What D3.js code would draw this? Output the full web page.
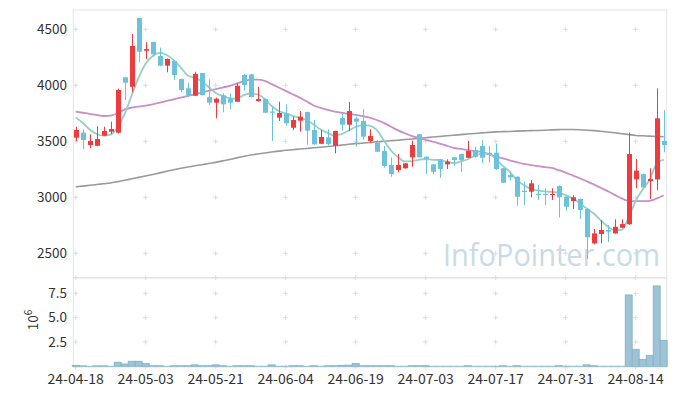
<!DOCTYPE html>
<html><head><meta charset="utf-8">
<script src="https://cdn.jsdelivr.net/npm/d3@7"></script>
<style>html,body{margin:0;padding:0;background:#fff}svg{display:block}</style>
</head><body>
<svg id="chart" width="677" height="396"></svg>
<script>
const dates = ["24-04-18","24-04-19","24-04-22","24-04-23","24-04-24","24-04-25","24-04-26","24-04-29","24-04-30","24-05-02",
"24-05-03","24-05-07","24-05-08","24-05-09","24-05-10","24-05-13","24-05-14","24-05-16","24-05-17","24-05-20",
"24-05-21","24-05-22","24-05-23","24-05-24","24-05-27","24-05-28","24-05-29","24-05-30","24-05-31","24-06-03",
"24-06-04","24-06-05","24-06-07","24-06-10","24-06-11","24-06-12","24-06-13","24-06-14","24-06-17","24-06-18",
"24-06-19","24-06-20","24-06-21","24-06-24","24-06-25","24-06-26","24-06-27","24-06-28","24-07-01","24-07-02",
"24-07-03","24-07-04","24-07-05","24-07-08","24-07-09","24-07-10","24-07-11","24-07-12","24-07-15","24-07-16",
"24-07-17","24-07-18","24-07-19","24-07-22","24-07-23","24-07-24","24-07-25","24-07-26","24-07-29","24-07-30",
"24-07-31","24-08-01","24-08-02","24-08-05","24-08-06","24-08-07","24-08-08","24-08-09","24-08-12","24-08-13",
"24-08-14","24-08-16","24-08-19","24-08-20","24-08-21"];

const openP = [3532,3577,3467,3460,3550,3586,3577,4071,3987,4601,
4309,4387,4262,4175,4217,4056,3973,3907,4110,3895,
3845,3911,3880,3853,4092,4098,3860,3877,3766,3711,
3750,3621,3684,3761,3601,3478,3535,3460,3708,3648,
3705,3681,3503,3487,3413,3288,3244,3259,3357,3563,
3362,3294,3339,3294,3357,3386,3353,3422,3458,3398,
3398,3259,3199,3184,3058,3050,3031,3031,3027,3101,
3005,2967,2985,2895,2589,2672,2708,2678,2728,2759,
3160,3208,3145,3160,3503];
const highP = [3630,3607,3562,3634,3630,3675,3970,4075,4458,4601,
4384,4390,4336,4240,4220,4060,4023,4121,4110,4053,
3890,3928,3928,4018,4101,4100,3987,3880,3809,3853,
3830,3720,3770,3765,3690,3601,3607,3595,3755,3851,
3720,3786,3607,3511,3458,3357,3386,3306,3505,3565,
3365,3297,3342,3339,3360,3390,3503,3450,3511,3458,
3480,3262,3230,3187,3139,3154,3110,3080,3080,3105,
3008,3020,2988,2898,2717,2797,2752,2803,2803,3577,
3342,3210,3259,3973,3779];
const lowP = [3500,3431,3437,3455,3545,3565,3570,3869,3937,4205,
4235,4255,4170,4116,4047,3937,3893,3905,3910,3824,
3705,3759,3788,3850,3952,3890,3855,3750,3502,3681,
3639,3601,3586,3470,3467,3475,3461,3393,3595,3592,
3452,3518,3482,3405,3264,3184,3223,3256,3273,3355,
3205,3205,3175,3252,3279,3228,3350,3353,3303,3309,
3244,3128,3150,2925,2931,3000,2976,2931,2976,2821,
2880,2895,2806,2449,2580,2589,2601,2675,2725,2755,
3080,3080,2985,3065,3402];
const closeP = [3601,3511,3503,3520,3592,3610,3958,4023,4351,4300,
4324,4277,4175,4235,4092,3958,3913,4101,3913,3845,
3880,3830,3845,3996,4003,3895,3877,3755,3762,3753,
3661,3690,3720,3595,3473,3538,3476,3592,3648,3770,
3675,3541,3547,3407,3279,3208,3288,3303,3467,3357,
3345,3228,3252,3318,3333,3333,3413,3362,3353,3385,
3252,3130,3178,3005,3054,3125,3027,3027,3031,3000,
2916,3000,2887,2643,2678,2708,2693,2737,2761,3386,
3238,3089,3163,3705,3467];
const volume = [100000,50000,10000,50000,50000,10000,420000,240000,520000,520000,
280000,60000,60000,10000,60000,60000,60000,150000,60000,60000,
150000,60000,10000,60000,60000,60000,10000,10000,150000,10000,
10000,60000,60000,10000,60000,10000,60000,60000,100000,120000,
300000,60000,60000,60000,60000,60000,10000,10000,60000,60000,
60000,10000,10000,10000,10000,10000,60000,10000,10000,10000,
10000,60000,10000,60000,10000,10000,10000,10000,10000,60000,
10000,10000,10000,150000,60000,10000,10000,10000,10000,7330000,
1750000,720000,1130000,8260000,2670000];
const ma5 = [3714,3665,3605,3565,3550,3560,3625,3745,3910,4070,
4195,4262,4290,4270,4225,4160,4088,4068,4035,3985,
3932,3905,3885,3880,3912,3928,3918,3880,3815,3770,
3750,3727,3710,3690,3650,3605,3575,3550,3565,3595,
3630,3645,3640,3601,3510,3420,3360,3320,3322,3335,
3342,3335,3333,3318,3305,3320,3340,3370,3390,3385,
3345,3280,3230,3155,3110,3075,3062,3052,3048,3042,
3020,2990,2948,2900,2855,2795,2740,2708,2710,2820,
2968,3070,3160,3300,3337];
const ma20 = [3764,3755,3745,3735,3726,3730,3750,3785,3800,3810,
3818,3830,3845,3860,3875,3890,3905,3920,3935,3950,
3965,3980,3995,4015,4035,4050,4050,4040,4010,3980,
3950,3920,3890,3855,3820,3798,3780,3765,3755,3745,
3735,3724,3712,3690,3665,3632,3600,3572,3548,3530,
3513,3497,3480,3460,3442,3432,3422,3413,3405,3385,
3365,3348,3330,3314,3298,3288,3278,3270,3262,3242,
3220,3195,3170,3143,3115,3085,3055,3022,2990,2968,
2966,2966,2969,2990,3018];
const ma120 = [3094,3100,3107,3114,3121,3128,3140,3152,3165,3178,
3190,3204,3218,3232,3246,3260,3270,3281,3291,3302,
3312,3325,3338,3352,3365,3378,3387,3395,3404,3412,
3420,3425,3431,3436,3442,3447,3453,3460,3466,3473,
3479,3484,3489,3495,3500,3505,3510,3516,3521,3527,
3532,3538,3543,3549,3554,3560,3565,3570,3575,3580,
3584,3586,3588,3591,3593,3595,3597,3599,3602,3604,
3606,3605,3603,3599,3595,3590,3583,3576,3568,3560,
3552,3549,3546,3543,3541];
const priceTicks = [2500,3000,3500,4000,4500];
const volTicks = [2500000,5000000,7500000];
const volTickLabels = ["2.5","5.0","7.5"];
const xTickDates = ["24-04-18","24-05-03","24-05-21","24-06-04","24-06-19","24-07-03","24-07-17","24-07-31","24-08-14"];

const svg = d3.select("#chart");
const L = 73.3, R = 666.7, T = 10, MB = 277.7, VT = 278, VB = 367;
const x = d3.scalePoint().domain(dates).range([75.7, 663.7]);
const y = d3.scaleLinear().domain([2500,4500]).range([253.3, 29.3]);
const yv = d3.scaleLinear().domain([0,7500000]).range([366.3, 293.3]);
const step = x.step();
const font = "'Noto Sans CJK KR','Noto Sans',sans-serif";
const UP = "#ef3a3e", DOWN = "#6cc2da";

// frames
svg.append("rect").attr("x",L).attr("y",T).attr("width",R-L).attr("height",MB-T)
  .attr("fill","none").attr("stroke","#e4e4e4").attr("stroke-width",1);
svg.append("rect").attr("x",L).attr("y",VT).attr("width",R-L).attr("height",VB-VT)
  .attr("fill","none").attr("stroke","#e4e4e4").attr("stroke-width",1);

// grid plus marks
const plus = svg.append("g").attr("stroke","#dcdcdc").attr("stroke-width",1);
function addPlus(px,py){
  plus.append("line").attr("x1",px-2.5).attr("x2",px+2.5).attr("y1",py).attr("y2",py);
  plus.append("line").attr("x1",px).attr("x2",px).attr("y1",py-2.5).attr("y2",py+2.5);
}
xTickDates.forEach(d=>{
  priceTicks.forEach(p=>addPlus(x(d),y(p)));
  volTicks.forEach(v=>addPlus(x(d),yv(v)));
  addPlus(x(d),MB); addPlus(x(d),VB);
});

// watermark
svg.append("text").attr("x",443).attr("y",266).text("InfoPointer.com")
  .attr("font-family","'Open Sans',sans-serif").attr("font-size",31)
  .attr("textLength",217).attr("lengthAdjust","spacingAndGlyphs")
  .attr("fill","#c8dbe6");

// MA lines
const idx = d3.range(dates.length);
const lineGen = arr => d3.line().x(i=>x(dates[i])).y(i=>y(arr[i])).curve(d3.curveMonotoneX)(idx);
svg.append("path").attr("d",lineGen(ma120)).attr("fill","none").attr("stroke","#9a9a9a").attr("stroke-width",1.6);
svg.append("path").attr("d",lineGen(ma20)).attr("fill","none").attr("stroke","#c98fc8").attr("stroke-width",1.8);
svg.append("path").attr("d",lineGen(ma5)).attr("fill","none").attr("stroke","#93d0c6").attr("stroke-width",1.8);

// candles
const cg = svg.append("g");
idx.forEach(i=>{
  const up = closeP[i] >= openP[i];
  const col = up ? UP : DOWN;
  const cx = Math.round(x(dates[i])) + 0.5;
  cg.append("line").attr("x1",cx).attr("x2",cx).attr("y1",y(highP[i])).attr("y2",y(lowP[i]))
    .attr("stroke",col).attr("stroke-width",1);
  const top = y(Math.max(openP[i],closeP[i])), bot = y(Math.min(openP[i],closeP[i]));
  cg.append("rect").attr("x",cx-2.5).attr("width",5).attr("y",top).attr("height",Math.max(1.2,bot-top))
    .attr("fill",col);
});

// volume bars
svg.append("g").selectAll("rect").data(idx).join("rect")
  .attr("x",i=>x(dates[i])-step/2).attr("width",step)
  .attr("y",i=>yv(volume[i])).attr("height",i=>yv(0)-yv(volume[i]))
  .attr("fill","#9dc3d5").attr("stroke","#82b1c7").attr("stroke-width",0.8);

// axis labels
const tg = svg.append("g").attr("font-family",font).attr("font-size",13.5).attr("fill","#333");
priceTicks.forEach(p=>tg.append("text").attr("x",67).attr("y",y(p)).attr("dy","0.35em").attr("text-anchor","end").text(p));
volTicks.forEach((v,k)=>tg.append("text").attr("x",67).attr("y",yv(v)).attr("dy","0.35em").attr("text-anchor","end").text(volTickLabels[k]));
xTickDates.forEach(d=>tg.append("text").attr("x",x(d)).attr("y",384).attr("text-anchor","middle").attr("font-size",14).text(d));
const ylab = tg.append("text").attr("transform","translate(38,320) rotate(-90)").attr("text-anchor","middle");
ylab.append("tspan").text("10");
ylab.append("tspan").attr("dy",-6).attr("font-size",10).text("6");
</script>
</body></html>
